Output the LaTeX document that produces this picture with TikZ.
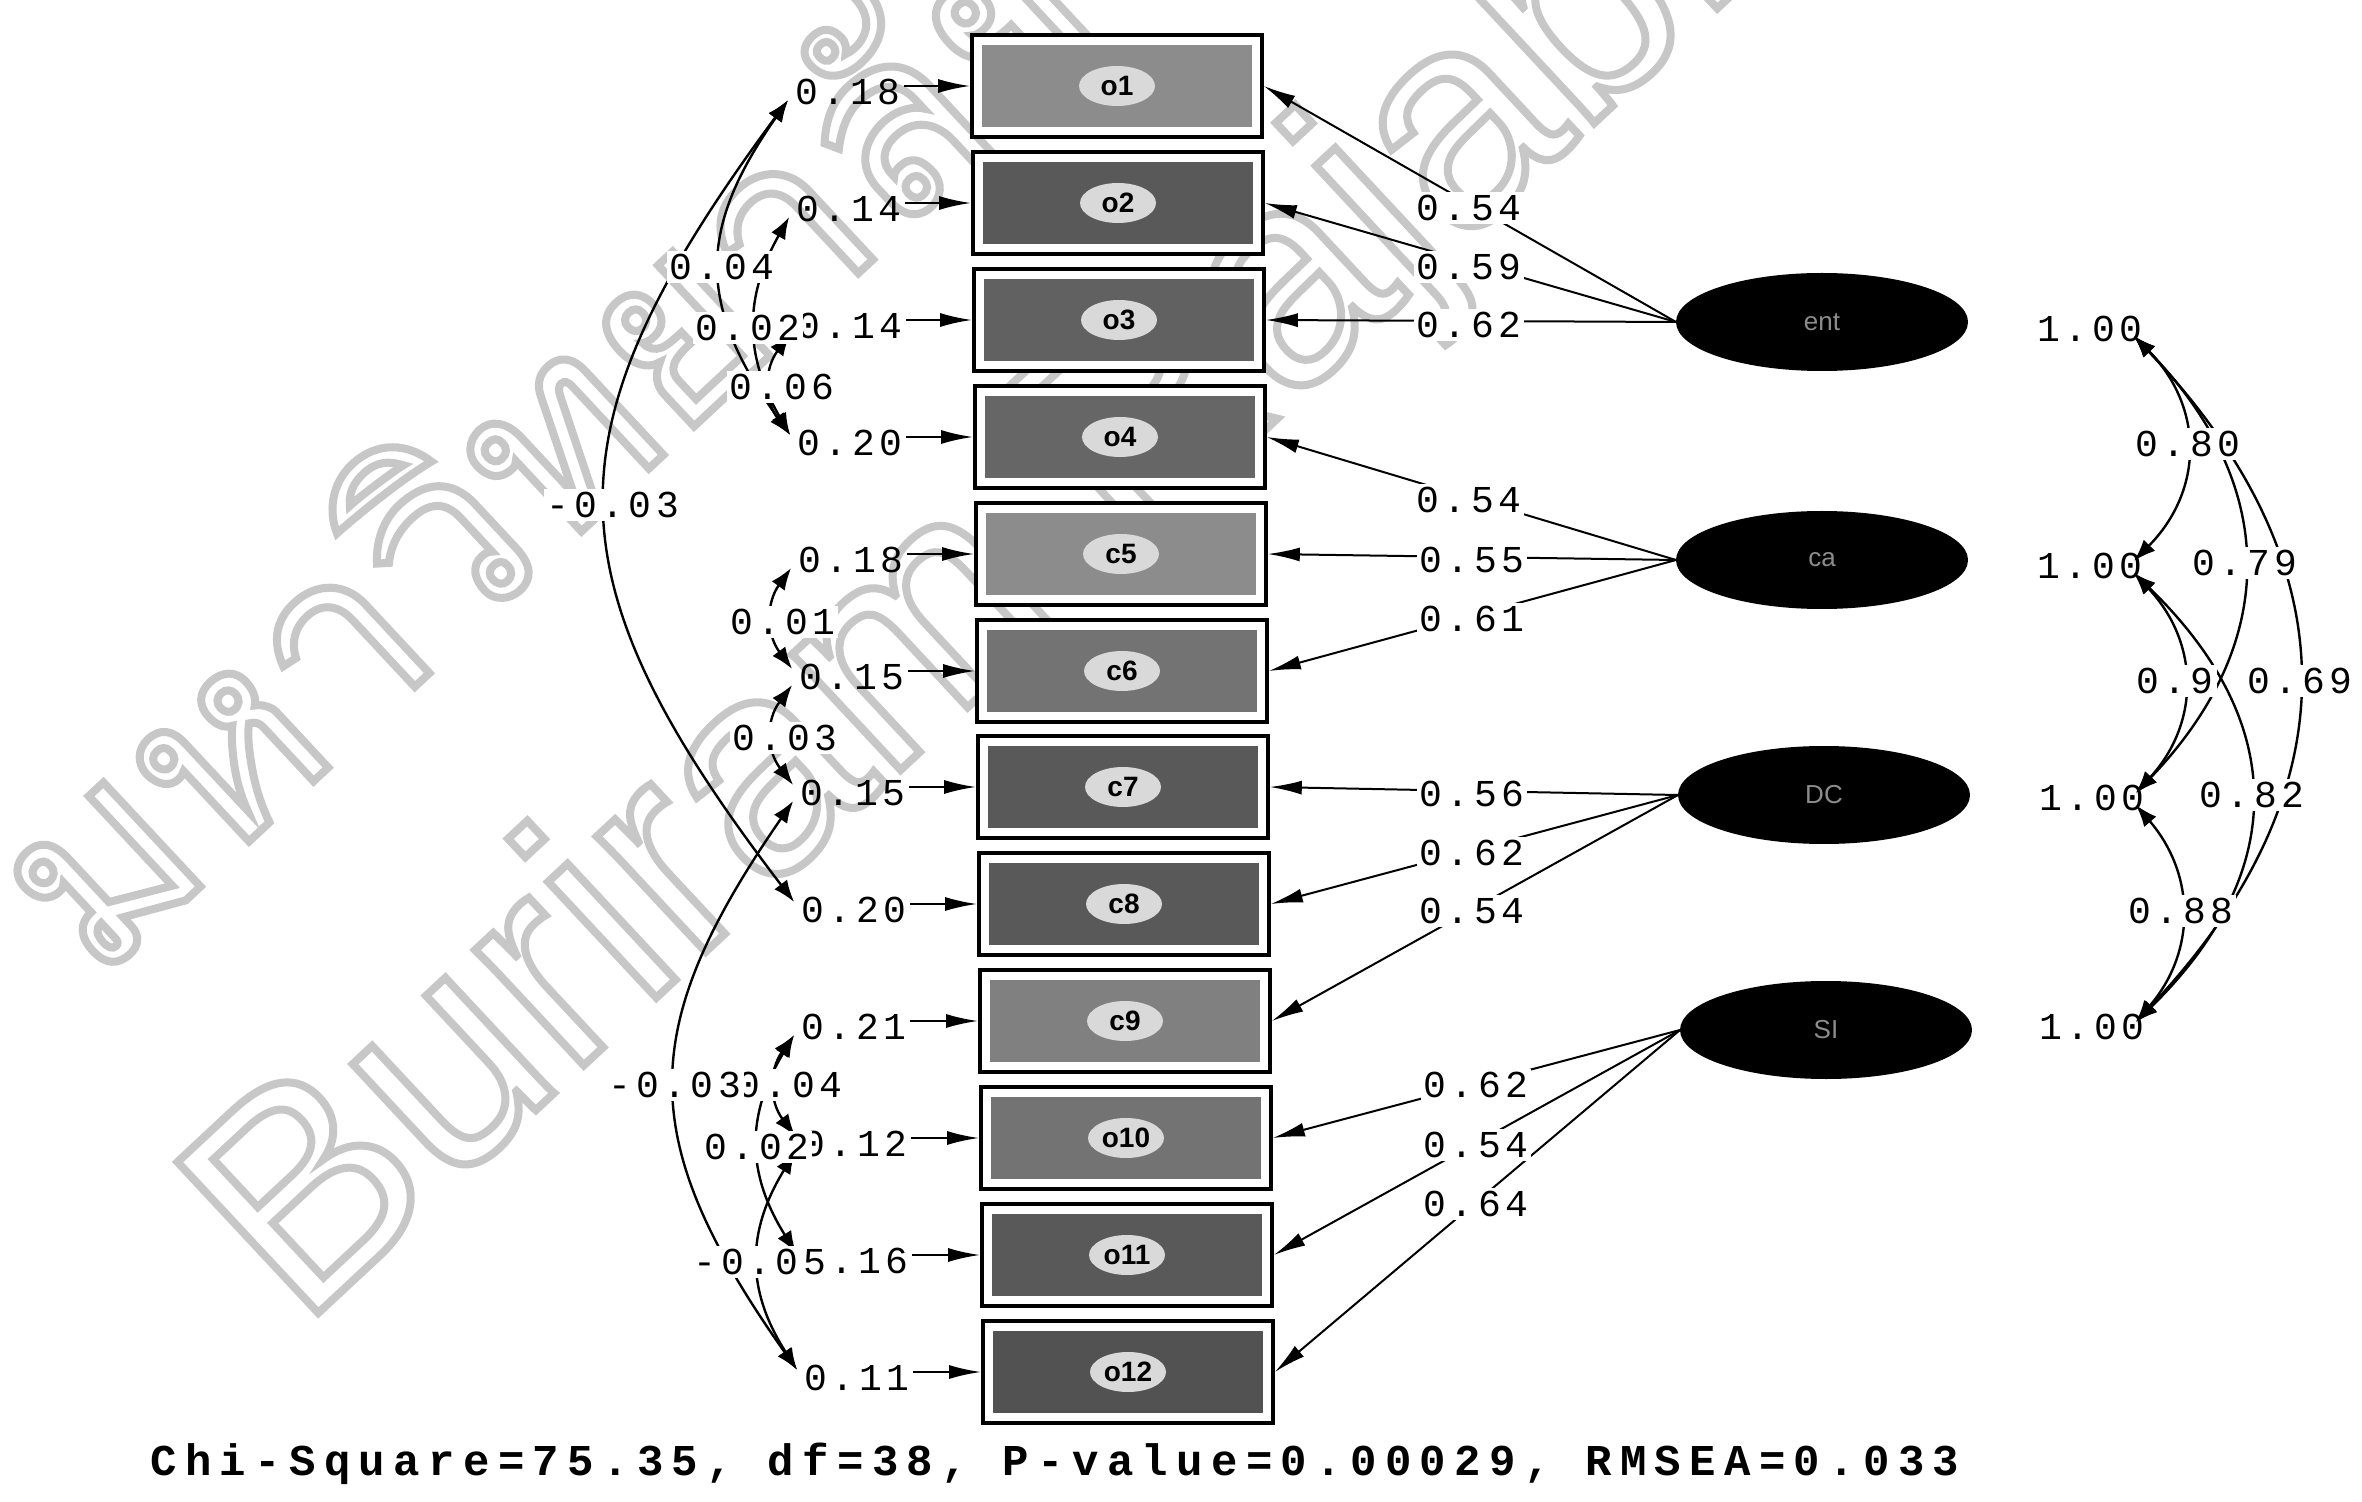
\documentclass[tikz,border=0pt]{standalone}
\usepackage{fontspec}
\setsansfont{Liberation Sans}
\newfontfamily\lisfont[LetterSpace=12]{Liberation Mono}
\newfontfamily\lisbold[LetterSpace=19]{Liberation Mono}
\newfontfamily\thaifont[Script=Thai]{Loma}
\newfontfamily\wmfont{Liberation Sans}
\usetikzlibrary{arrows.meta,calc,shapes.geometric}
\pgfdeclarelayer{wm}
\pgfdeclarelayer{bg}
\pgfsetlayers{wm,bg,main}
\tikzset{
  obs/.style={draw, line width=1.8pt, fill=white, minimum width=145pt, minimum height=51pt, inner sep=0pt,
    font=\sffamily\bfseries\fontsize{14}{14}\selectfont,
    path picture={\fill[#1] ([shift={(5pt,-5pt)}]path picture bounding box.north west) rectangle ([shift={(-5pt,5pt)}]path picture bounding box.south east);
      \fill[black!15] (path picture bounding box.center) ellipse (19pt and 10pt);}},
  lat/.style={ellipse, draw, fill=black, line width=1pt, minimum width=145pt, minimum height=48pt, inner sep=0pt,
    text=black!45, font=\sffamily\fontsize{13}{13}\selectfont},
  num/.style={font=\lisfont\fontsize{19}{19}\selectfont, inner sep=1.5pt},
  numw/.style={num, fill=white},
  load/.style={line width=1pt, -{Latex[length=16pt,width=7pt]}},
  err/.style={line width=1.2pt, -{Latex[length=16pt,width=7pt]}},
  cov/.style={line width=1.2pt, {Latex[length=11pt,width=8pt]}-{Latex[length=11pt,width=8pt]}},
  wmark/.style={text=black!22, inner sep=0pt, anchor=base west, rotate=43}
}
\begin{document}
\begin{tikzpicture}[x=0.5pt,y=-0.5pt]
\useasboundingbox (0,0) rectangle (2362,1502);

% watermark
\begin{pgfonlayer}{wm}
\fill[white] (0,0) rectangle (2362,1502);
\begin{scope}
\clip (0,0) rectangle (2362,1502);
\node[wmark, font=\thaifont\fontsize{128}{128}\selectfont] (wm1) at (95,985)
  {\special{pdf:literal direct 1 Tr 4 w}มหาวิทยาลัยราชภัฏบุรีรัมย์\special{pdf:literal direct 0 Tr}};
\node[wmark, font=\wmfont\fontsize{150}{150}\selectfont] (wm2) at (300,1330)
  {\special{pdf:literal direct 1 Tr 4 w}Buriram Rajabhat University\special{pdf:literal direct 0 Tr}};
\end{scope}
\end{pgfonlayer}

% observed variables
\node[obs=black!45] (o1) at (1117,86) {o1};
\node[obs=black!65] (o2) at (1118,203) {o2};
\node[obs=black!62] (o3) at (1119,320) {o3};
\node[obs=black!60] (o4) at (1120,437) {o4};
\node[obs=black!45] (o5) at (1121,554) {c5};
\node[obs=black!55] (o6) at (1122,671) {c6};
\node[obs=black!65] (o7) at (1123,787) {c7};
\node[obs=black!65] (o8) at (1124,904) {c8};
\node[obs=black!50] (o9) at (1125,1021) {c9};
\node[obs=black!55] (o10) at (1126,1138) {o10};
\node[obs=black!65] (o11) at (1127,1255) {o11};
\node[obs=black!68] (o12) at (1128,1372) {o12};

% latent variables
\node[lat] (L1) at (1822,322) {ent};
\node[lat] (L2) at (1822,560) {ca};
\node[lat] (L3) at (1824,795) {DC};
\node[lat] (L4) at (1826,1030) {SI};

% error variances
\node[num] (e1) at (848,92) {0.18};
\node[num] (e2) at (849,209) {0.14};
\node[num] (e3) at (850,326) {0.14};
\node[num] (e4) at (850,443) {0.20};
\node[num] (e5) at (851,560) {0.18};
\node[num] (e6) at (852,677) {0.15};
\node[num] (e7) at (853,793) {0.15};
\node[num] (e8) at (854,910) {0.20};
\node[num] (e9) at (854,1027) {0.21};
\node[num] (e10) at (855,1144) {0.12};
\node[num] (e11) at (856,1261) {0.16};
\node[num] (e12) at (857,1378) {0.11};

% latent variances
\node[num] (V1) at (2090,329) {1.00};
\node[num] (V2) at (2090,566) {1.00};
\node[num] (V3) at (2092,798) {1.00};
\node[num] (V4) at (2092,1027) {1.00};

% arc anchor points
\foreach \i in {1,...,12}{
  \coordinate (b\i) at ($(e\i.west)+(-4,8)$);
  \coordinate (t\i) at ($(e\i.west)+(-4,-8)$);
}
\foreach \i in {1,...,4}{
  \coordinate (vb\i) at ($(V\i.east)+(-12,7)$);
  \coordinate (vt\i) at ($(V\i.east)+(-12,-5)$);
}

\begin{pgfonlayer}{bg}
% loadings
\draw[load] (L1.west) -- (o1.east);
\draw[load] (L1.west) -- (o2.east);
\draw[load] (L1.west) -- (o3.east);
\draw[load] (L2.west) -- (o4.east);
\draw[load] (L2.west) -- (o5.east);
\draw[load] (L2.west) -- (o6.east);
\draw[load] (L3.west) -- (o7.east);
\draw[load] (L3.west) -- (o8.east);
\draw[load] (L3.west) -- (o9.east);
\draw[load] (L4.west) -- (o10.east);
\draw[load] (L4.west) -- (o11.east);
\draw[load] (L4.west) -- (o12.east);
% error arrows
\foreach \i in {1,...,12}{
  \draw[err] (e\i.east |- o\i.west) -- (o\i.west);
}
% error covariances
\draw[cov] (b1) .. controls (544,430) and (544,575) .. (t8);
\draw[cov] (b1) .. controls (697,230) and (697,305) .. (t4);
\draw[cov] (b2) .. controls (744,297) and (744,355) .. (t4);
\draw[cov] (b3) .. controls (764,369) and (764,400) .. (t4);
\draw[cov] (b5) .. controls (766,603) and (766,634) .. (t6);
\draw[cov] (b6) .. controls (766,720) and (766,750) .. (t7);
\draw[cov] (b7) .. controls (635,1030) and (635,1140) .. (t12);
\draw[cov] (b9) .. controls (769,1070) and (769,1101) .. (t10);
\draw[cov] (b9) .. controls (746,1115) and (746,1173) .. (t11);
\draw[cov] (b10) .. controls (746,1232) and (746,1290) .. (t12);
% latent covariances
\draw[cov] (vb1) .. controls (2204,407) and (2204,490) .. (vt2);
\draw[cov] (vb1) .. controls (2280,486) and (2280,643) .. (vt3);
\draw[cov] (vb1) .. controls (2353,566) and (2353,792) .. (vt4);
\draw[cov] (vb2) .. controls (2200,643) and (2200,723) .. (vt3);
\draw[cov] (vb2) .. controls (2289,723) and (2289,872) .. (vt4);
\draw[cov] (vb3) .. controls (2196,875) and (2196,952) .. (vt4);
\end{pgfonlayer}

% loading labels
\node[numw] (l1) at (1469,208) {0.54};
\node[numw] (l2) at (1469,267) {0.59};
\node[numw] (l3) at (1469,325) {0.62};
\node[numw] (l4) at (1469,500) {0.54};
\node[numw] (l5) at (1472,560) {0.55};
\node[numw] (l6) at (1472,619) {0.61};
\node[numw] (l7) at (1472,794) {0.56};
\node[numw] (l8) at (1472,853) {0.62};
\node[numw] (l9) at (1472,911) {0.54};
\node[numw] (l10) at (1476,1085) {0.62};
\node[numw] (l11) at (1476,1145) {0.54};
\node[numw] (l12) at (1476,1204) {0.64};

% error covariance labels
\node[numw] (c1) at (613,505) {-0.03};
\node[numw] (c2) at (722,267) {0.04};
\node[numw] (c3) at (748,328) {0.02};
\node[numw] (c4) at (782,387) {0.06};
\node[numw] (c5) at (783,622) {0.01};
\node[numw] (c6) at (785,738) {0.03};
\node[numw] (c8) at (790,1085) {0.04};
\node[numw] (c7) at (675,1085) {-0.03};
\node[numw] (c9) at (757,1147) {0.02};
\node[numw] (c10) at (760,1262) {-0.05};

% latent covariance labels
\node[numw] (r1) at (2188,444) {0.80};
\node[numw] (r2) at (2245,563) {0.79};
\node[numw] (r3) at (2175,681) {0.9};
\node[numw] (r4) at (2300,681) {0.69};
\node[numw] (r5) at (2252,795) {0.82};
\node[numw] (r6) at (2181,911) {0.88};

% fit statistics
\node[font=\lisbold\bfseries\fontsize{22}{22}\selectfont, inner sep=0pt] (fit) at (1055,1464)
  {Chi-Square=75.35, df=38, P-value=0.00029, RMSEA=0.033};
\end{tikzpicture}
\end{document}
